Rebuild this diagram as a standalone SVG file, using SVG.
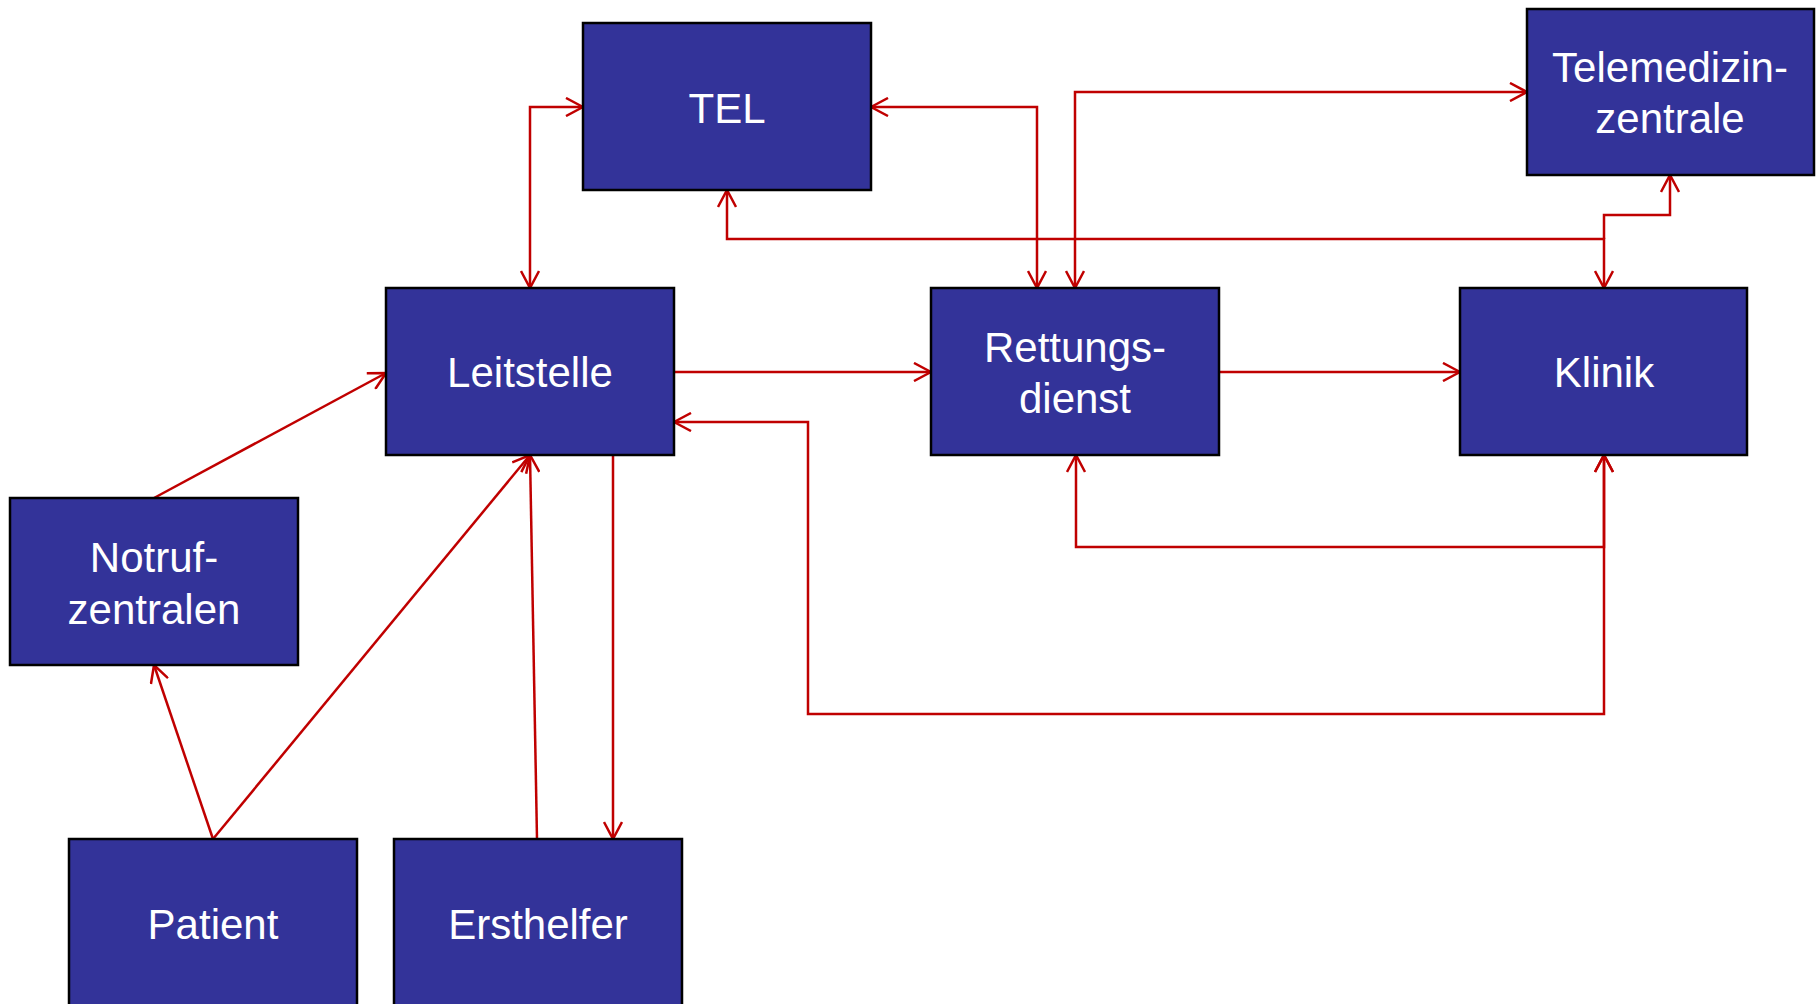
<svg xmlns="http://www.w3.org/2000/svg" width="1818" height="1004" viewBox="0 0 1818 1004">
<style>
.box{fill:#333399;stroke:#000;stroke-width:2.5}
.lbl{fill:#fff;font-family:"Liberation Sans",Arial,sans-serif;font-size:42px;text-anchor:middle}
.c{fill:none;stroke:#C00000;stroke-width:2.5}
</style>
<defs>
<marker id="ah" viewBox="0 0 20 20" refX="18" refY="10" markerWidth="20" markerHeight="20" markerUnits="userSpaceOnUse" orient="auto-start-reverse">
<path d="M1,1 L18,10 L1,19" fill="none" stroke="#C00000" stroke-width="2.5"/>
</marker>
</defs>
<rect width="1818" height="1004" fill="#fff"/>
<g id="connectors">
<path class="c" d="M530,288 V107 H583" marker-start="url(#ah)" marker-end="url(#ah)"/>
<path class="c" d="M871,107 H1037 V288" marker-start="url(#ah)" marker-end="url(#ah)"/>
<path class="c" d="M1075,288 V92 H1527" marker-start="url(#ah)" marker-end="url(#ah)"/>
<path class="c" d="M727,190 V239 H1604 V288" marker-start="url(#ah)" marker-end="url(#ah)"/>
<path class="c" d="M1604,239 V215 H1670 V175" marker-end="url(#ah)"/>
<path class="c" d="M674,372 H931" marker-end="url(#ah)"/>
<path class="c" d="M1219,372 H1460" marker-end="url(#ah)"/>
<path class="c" d="M1076,455 V547 H1604 V455" marker-start="url(#ah)" marker-end="url(#ah)"/>
<path class="c" d="M1604,455 V714 H808 V422 H674" marker-start="url(#ah)" marker-end="url(#ah)"/>
<path class="c" d="M154,498 L386,373" marker-end="url(#ah)"/>
<path class="c" d="M213,839 L154,665" marker-end="url(#ah)"/>
<path class="c" d="M213,839 L530,455" marker-end="url(#ah)"/>
<path class="c" d="M537,839 L530,455" marker-end="url(#ah)"/>
<path class="c" d="M613,455 V839" marker-end="url(#ah)"/>
</g>
<g id="tel"><rect class="box" x="583" y="23" width="288" height="167"/><text class="lbl" x="727" y="123">TEL</text></g>
<g id="telemedizinzentrale"><rect class="box" x="1527" y="9" width="287" height="166"/><text class="lbl" x="1670" y="82">Telemedizin-</text><text class="lbl" x="1670" y="133">zentrale</text></g>
<g id="leitstelle"><rect class="box" x="386" y="288" width="288" height="167"/><text class="lbl" x="530" y="387">Leitstelle</text></g>
<g id="rettungsdienst"><rect class="box" x="931" y="288" width="288" height="167"/><text class="lbl" x="1075" y="362">Rettungs-</text><text class="lbl" x="1075" y="413">dienst</text></g>
<g id="klinik"><rect class="box" x="1460" y="288" width="287" height="167"/><text class="lbl" x="1604" y="387">Klinik</text></g>
<g id="notrufzentralen"><rect class="box" x="10" y="498" width="288" height="167"/><text class="lbl" x="154" y="572">Notruf-</text><text class="lbl" x="154" y="624">zentralen</text></g>
<g id="patient"><rect class="box" x="69" y="839" width="288" height="167"/><text class="lbl" x="213" y="939">Patient</text></g>
<g id="ersthelfer"><rect class="box" x="394" y="839" width="288" height="167"/><text class="lbl" x="538" y="939">Ersthelfer</text></g>
</svg>
